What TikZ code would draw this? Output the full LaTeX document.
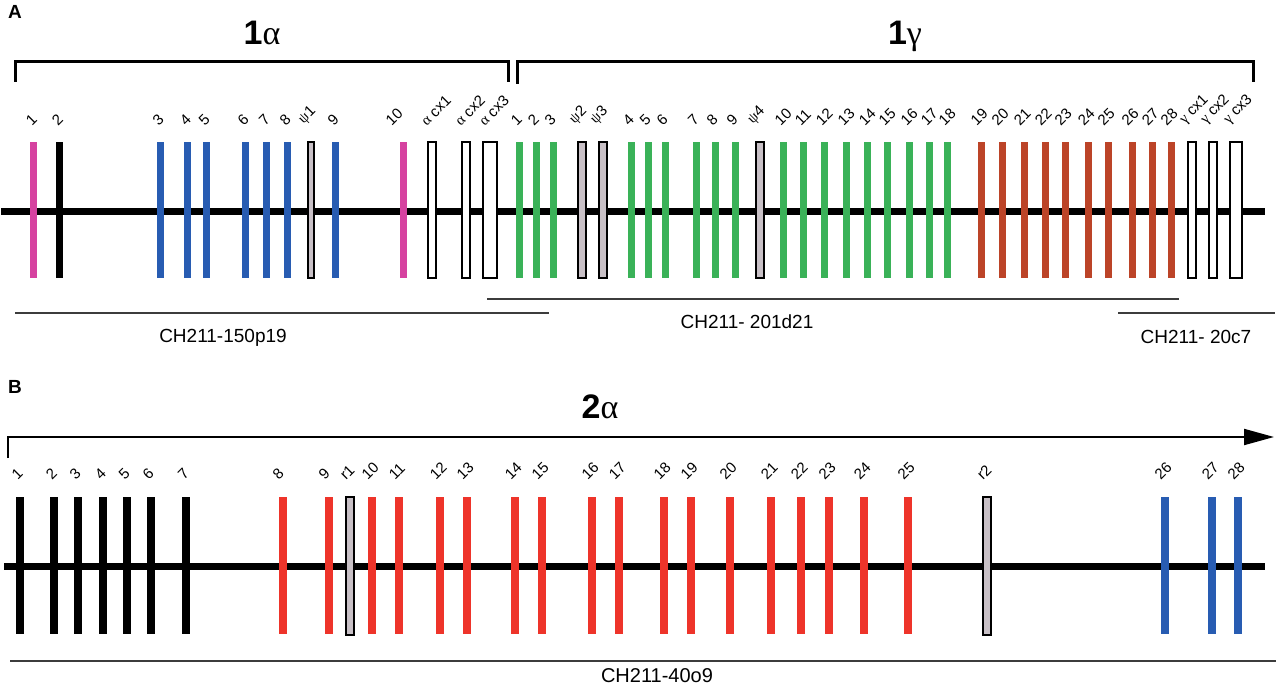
\documentclass[tikz,border=0pt]{standalone}
\usepackage{fontspec}
\setmainfont{Liberation Sans}
\newfontfamily\grego{Liberation Serif}
\usetikzlibrary{positioning, arrows.meta, calc}

\definecolor{rosa}{RGB}{214,66,160}
\definecolor{azul}{RGB}{40,92,178}
\definecolor{verde}{RGB}{58,178,88}
\definecolor{marrom}{RGB}{188,68,40}
\definecolor{vermelho}{RGB}{238,52,42}
\definecolor{cinza}{RGB}{200,192,198}
\definecolor{linha}{RGB}{60,60,60}

\begin{document}
\begin{tikzpicture}[x=1pt, y=-1pt,
        exon/.style={rectangle, inner sep=0pt, minimum width=7pt, minimum height=135pt},
        caixa/.style={rectangle, inner sep=0pt, draw=black, line width=2.6pt, fill=white, minimum width=8pt, minimum height=136pt},
        pseudo/.style={caixa, fill=cinza},
        rot/.style={rotate=45, anchor=south west, inner sep=0pt, font=\fontsize{15}{15}\selectfont},
        eixo/.style={line width=7pt},
        chave/.style={line width=3pt},
        clone/.style={line width=1.3pt, draw=linha},
        titulo/.style={anchor=base, font=\fontsize{34}{34}\selectfont},
        painel/.style={font=\fontsize{19}{19}\selectfont\bfseries},
        nome/.style={font=\fontsize{19}{19}\selectfont},
        >=latex]

    \useasboundingbox (0,0) rectangle (1280,687);

    % Painel A
    \node (A) [painel] at (15,12) {A};
    \node (t1a) [titulo] at (262,45) {\textbf{1}{\grego α}};
    \node (t1g) [titulo] at (905,45) {\textbf{1}{\grego γ}};

    % Chaves
    \coordinate (ch1a) at (15,82);
    \coordinate (ch1b) at (508,82);
    \coordinate (ch2a) at (517,84);
    \coordinate (ch2b) at (1253,82);
    \draw[chave] (ch1a) -- ++(0,-20) -| (ch1b);
    \draw[chave] (ch2a) -- ++(0,-22) -| (ch2b);

    % Eixo A
    \coordinate (eA0) at (1,212);
    \coordinate (eA1) at (1265,212);
    \draw[eixo] (eA0) -- (eA1);

    % Genes 1alfa
    \node (alfa1) [exon, fill=rosa] at (33,210) {};
    \node (la1) [rot] at (32,127) {1};
    \node (alfa10) [exon, fill=rosa] at (403,210) {};
    \node (la10) [rot] at (392,127) {10};
    \node (alfa2) [exon, fill=black] at (59,210) {};
    \node (la2) [rot] at (58,127) {2};
    \foreach \x/\t in {160/3, 187/4, 206/5, 245/6, 266/7, 287/8, 335/9} {
        \node (alfa\t) [exon, fill=azul] at (\x,210) {};
        \node (la\t) [rot] at (\x-1,127) {\t};
    }
    \node (psi1) [pseudo, minimum width=6pt] at (311,210) {};
    \node (lpsi1) [rot] at (306,127) {{\grego ψ}1};
    \foreach \x/\w/\n in {432/8/1, 466/8/2, 490/14/3} {
        \node (acx\n) [caixa, minimum width=\w pt] at (\x,210) {};
        \node (lacx\n) [rot] at (\x-5,127) {{\grego α} cx\n};
    }

    % Genes 1gama
    \foreach \x/\t in {519/1, 536/2, 553/3, 631/4, 648/5, 665/6, 696/7, 715/8, 735/9,
            783/10, 803/11, 824/12, 846/13, 867/14, 887/15, 909/16, 929/17, 947/18} {
        \node (gama\t) [exon, fill=verde] at (\x,210) {};
        \node (lg\t) [rot] at (\x-2,127) {\t};
    }
    \foreach \x/\n in {582/2, 603/3, 760/4} {
        \node (psi\n) [pseudo] at (\x,210) {};
        \node (lpsi\n) [rot] at (\x-5,127) {{\grego ψ}\n};
    }
    \foreach \x/\t in {981/19, 1002/20, 1024/21, 1045/22, 1065/23, 1088/24, 1108/25,
            1132/26, 1152/27, 1171/28} {
        \node (gama\t) [exon, fill=marrom] at (\x,210) {};
        \node (lg\t) [rot] at (\x-4,127) {\t};
    }
    \foreach \x/\w/\n in {1192/8/1, 1213/8/2, 1236/12/3} {
        \node (gcx\n) [caixa, minimum width=\w pt] at (\x,210) {};
        \node (lgcx\n) [rot] at (\x-5,127) {{\grego γ} cx\n};
    }

    % Clones A
    \coordinate (c150a) at (15,313);
    \coordinate (c150b) at (549,313);
    \draw[clone] (c150a) -- (c150b);
    \node (n150) [nome] at (223,338) {CH211-150p19};
    \coordinate (c201a) at (487,299);
    \coordinate (c201b) at (1179,299);
    \draw[clone] (c201a) -- (c201b);
    \node (n201) [nome] at (747,322) {CH211- 201d21};
    \coordinate (c20a) at (1118,313);
    \coordinate (c20b) at (1275,313);
    \draw[clone] (c20a) -- (c20b);
    \node (n20) [nome] at (1196,337) {CH211- 20c7};

    % Painel B
    \node (B) [painel] at (15,387) {B};
    \node (t2a) [titulo] at (600,418) {\textbf{2}{\grego α}};
    \coordinate (s0) at (8,458);
    \coordinate (s1) at (1274,437);
    \draw[line width=2pt, -{Triangle[length=30pt, width=16pt]}] (s0) |- (s1);

    % Eixo B
    \coordinate (eB0) at (4,566);
    \coordinate (eB1) at (1265,566);
    \draw[eixo] (eB0) -- (eB1);

    % Genes 2alfa
    \foreach \x/\t in {20/1, 54/2, 78/3, 103/4, 127/5, 151/6, 186/7} {
        \node (b\t) [exon, fill=black, minimum width=8pt, minimum height=137pt] at (\x,565) {};
        \node (lb\t) [rot] at (\x-2,481) {\t};
    }
    \foreach \x/\t in {283/8, 329/9, 372/10, 399/11, 440/12, 467/13, 515/14, 542/15, 592/16,
            619/17, 664/18, 691/19, 730/20, 771/21, 801/22, 829/23, 864/24, 908/25} {
        \node (b\t) [exon, fill=vermelho, minimum width=8pt, minimum height=137pt] at (\x,565) {};
        \node (lb\t) [rot] at (\x-4,481) {\t};
    }
    \foreach \x/\n in {350/1, 987/2} {
        \node (r\n) [pseudo, minimum height=138pt] at (\x,566) {};
        \node (lr\n) [rot] at (\x-4,481) {r\n};
    }
    \foreach \x/\t in {1165/26, 1212/27, 1238/28} {
        \node (b\t) [exon, fill=azul, minimum width=8pt, minimum height=137pt] at (\x,565) {};
        \node (lb\t) [rot] at (\x-4,481) {\t};
    }

    % Clone B
    \coordinate (c40a) at (10,661);
    \coordinate (c40b) at (1276,661);
    \draw[clone] (c40a) -- (c40b);
    \node (n40) [nome, font=\fontsize{20}{20}\selectfont] at (657,676) {CH211-40o9};

\end{tikzpicture}
\end{document}
